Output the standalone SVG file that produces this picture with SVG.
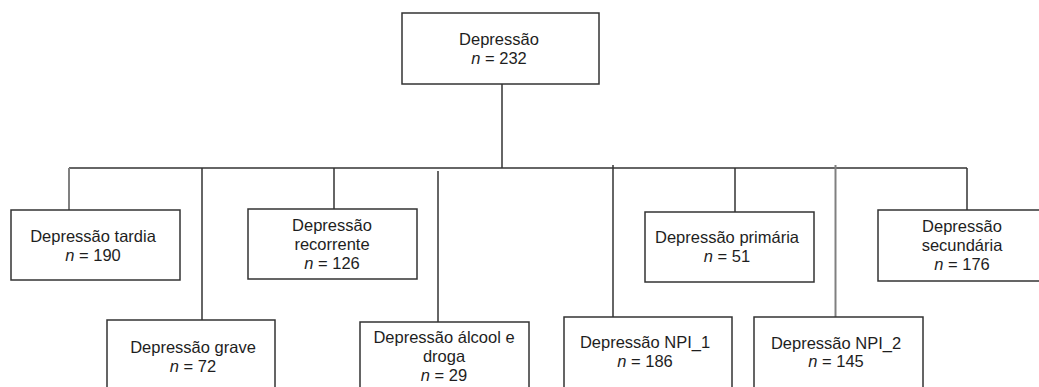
<svg xmlns="http://www.w3.org/2000/svg" width="1039" height="387" viewBox="0 0 1039 387">
<style>
.box{fill:#fff;stroke:#333;stroke-width:1.5}
.ln{stroke:#333;stroke-width:1.5;fill:none}
.lg{stroke:#808080;stroke-width:2;fill:none}
text{font-family:"Liberation Sans",Arial,sans-serif;font-size:16.5px;fill:#1e1e1e;text-anchor:middle}
.i{font-style:italic}
</style>
<rect width="1039" height="387" fill="#fff"/>
<g id="connectors">
<line class="ln" x1="502" y1="84" x2="502" y2="168"/>
<line class="ln" x1="69" y1="168" x2="967" y2="168"/>
<line class="lg" x1="69" y1="168" x2="69" y2="210"/>
<line class="ln" x1="202" y1="168" x2="202" y2="320"/>
<line class="ln" x1="334" y1="168" x2="334" y2="209"/>
<line class="ln" x1="438" y1="171" x2="438" y2="322"/>
<line class="ln" x1="613" y1="165" x2="613" y2="317"/>
<line class="ln" x1="735" y1="168" x2="735" y2="212"/>
<line class="lg" x1="835.5" y1="165" x2="835.5" y2="317"/>
<line class="ln" x1="967" y1="168" x2="967" y2="210"/>
</g>
<g id="n-root">
<rect class="box" x="402" y="13" width="197" height="71"/>
<text x="499" y="45">Depressão</text>
<text x="499" y="64"><tspan class="i">n</tspan> = 232</text>
</g>
<g id="n-tardia">
<rect class="box" x="11" y="210" width="169" height="70"/>
<text x="93" y="242">Depressão tardia</text>
<text x="93" y="261"><tspan class="i">n</tspan> = 190</text>
</g>
<g id="n-grave">
<rect class="box" x="107" y="320" width="168" height="80"/>
<text x="193" y="353">Depressão grave</text>
<text x="193" y="372"><tspan class="i">n</tspan> = 72</text>
</g>
<g id="n-recorrente">
<rect class="box" x="248" y="209" width="169" height="70"/>
<text x="332" y="231">Depressão</text>
<text x="332" y="250">recorrente</text>
<text x="332" y="269"><tspan class="i">n</tspan> = 126</text>
</g>
<g id="n-alcool">
<rect class="box" x="360" y="322" width="169" height="80"/>
<text x="444" y="343">Depressão álcool e</text>
<text x="444" y="362">droga</text>
<text x="444" y="381"><tspan class="i">n</tspan> = 29</text>
</g>
<g id="n-npi1">
<rect class="box" x="564" y="317" width="168" height="80"/>
<text x="645" y="348">Depressão NPI_1</text>
<text x="645" y="367"><tspan class="i">n</tspan> = 186</text>
</g>
<g id="n-primaria">
<rect class="box" x="645" y="212" width="169" height="70"/>
<text x="727" y="243">Depressão primária</text>
<text x="727" y="262"><tspan class="i">n</tspan> = 51</text>
</g>
<g id="n-npi2">
<rect class="box" x="754" y="317" width="169" height="80"/>
<text x="836" y="349">Depressão NPI_2</text>
<text x="836" y="367"><tspan class="i">n</tspan> = 145</text>
</g>
<g id="n-secundaria">
<rect class="box" x="878" y="210" width="170" height="71"/>
<text x="962" y="232">Depressão</text>
<text x="962" y="251">secundária</text>
<text x="962" y="270"><tspan class="i">n</tspan> = 176</text>
</g>
</svg>
